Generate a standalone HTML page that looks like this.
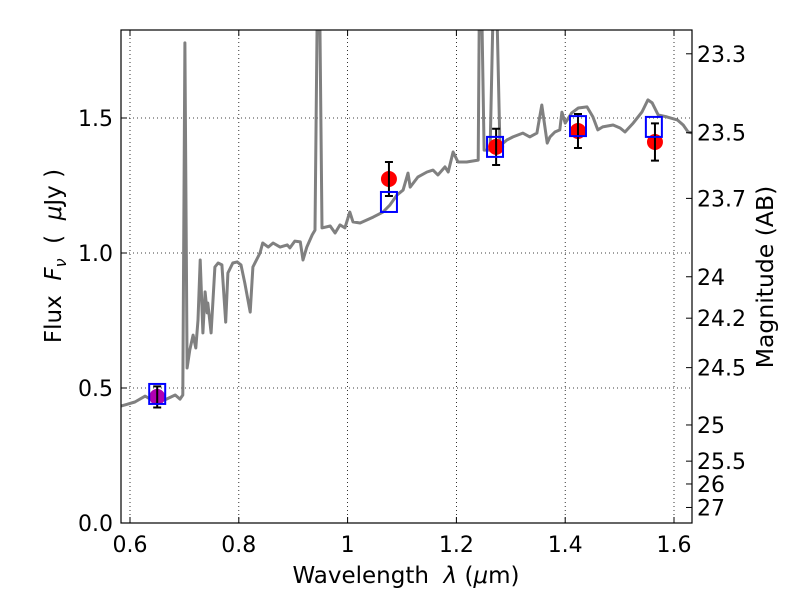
<!DOCTYPE html>
<html><head><meta charset="utf-8"><style>
body{margin:0;background:#fff}
svg{display:block;font-family:"DejaVu Sans","Liberation Sans",sans-serif}
</style></head><body>
<svg id="chart" width="800" height="600" viewBox="0 0 800 600">
<defs><clipPath id="plotclip"><rect x="121" y="30" width="571" height="493"/></clipPath></defs>
<rect x="0" y="0" width="800" height="600" fill="#fff"/>
<g id="grid"></g>
<g id="marks" clip-path="url(#plotclip)"></g>
<rect x="121" y="30" width="571" height="493" fill="none" stroke="#000" stroke-width="1.2"/>
<g id="axes"></g>
<text x="406" y="583" font-size="23" text-anchor="middle" style="white-space:pre">Wavelength  <tspan font-style="italic">λ</tspan> (<tspan font-style="italic">μ</tspan>m)</text>
<text transform="translate(61,256) rotate(-90)" font-size="23" text-anchor="middle" style="white-space:pre">Flux  <tspan font-style="italic">F<tspan font-size="16" dy="5">ν</tspan></tspan><tspan dy="-5">  (  </tspan><tspan font-style="italic">μ</tspan>Jy )</text>
<text transform="translate(773,277) rotate(-90)" font-size="23.5" text-anchor="middle">Magnitude (AB)</text>
</svg>
<script>
const specWave=[0.583,0.609,0.628,0.646,0.664,0.683,0.692,0.697,0.701,0.705,0.710,0.716,0.721,0.725,0.729,0.734,0.738,0.742,0.743,0.749,0.756,0.762,0.769,0.776,0.780,0.789,0.797,0.804,0.811,0.821,0.826,0.839,0.844,0.854,0.863,0.876,0.889,0.894,0.903,0.913,0.918,0.925,0.935,0.940,0.944,0.949,0.953,0.968,0.977,0.986,0.995,1.004,1.010,1.023,1.047,1.065,1.078,1.091,1.102,1.111,1.115,1.129,1.146,1.157,1.166,1.179,1.185,1.194,1.203,1.219,1.240,1.242,1.247,1.251,1.262,1.267,1.275,1.280,1.286,1.293,1.304,1.322,1.335,1.348,1.357,1.367,1.372,1.381,1.390,1.394,1.400,1.412,1.424,1.440,1.451,1.460,1.469,1.488,1.501,1.510,1.525,1.541,1.552,1.560,1.571,1.587,1.606,1.617,1.626,1.635];
const specFlux=[0.433,0.448,0.470,0.448,0.456,0.474,0.459,0.474,1.778,0.574,0.641,0.696,0.648,0.752,0.974,0.704,0.856,0.778,0.815,0.704,0.948,0.963,0.956,0.744,0.926,0.963,0.967,0.956,0.889,0.781,0.948,1.000,1.037,1.022,1.037,1.022,1.030,1.019,1.044,1.041,0.974,1.022,1.067,1.085,1.85,1.85,1.093,1.100,1.074,1.104,1.093,1.152,1.115,1.111,1.133,1.152,1.178,1.215,1.233,1.296,1.244,1.281,1.300,1.307,1.289,1.319,1.300,1.374,1.337,1.337,1.344,1.85,1.85,1.381,1.381,1.85,1.85,1.400,1.407,1.419,1.430,1.444,1.430,1.444,1.548,1.407,1.430,1.448,1.456,1.522,1.481,1.519,1.537,1.541,1.504,1.456,1.467,1.474,1.463,1.448,1.481,1.522,1.567,1.556,1.511,1.504,1.493,1.474,1.448,1.444];
const obsWave=[0.650,1.076,1.273,1.4235,1.565];
const obsFlux=[0.467,1.274,1.393,1.452,1.411];
const obsErr=[0.039,0.063,0.067,0.063,0.069];
const obsColor=['#b000b0','red','red','red','red'];
const modWave=[0.650,1.076,1.271,1.4235,1.563];
const modFlux=[0.478,1.189,1.393,1.470,1.467];
const xTicks=[0.6,0.8,1.0,1.2,1.4,1.6];
const xTickLabels=['0.6','0.8','1','1.2','1.4','1.6'];
const yTicks=[0,0.5,1.0,1.5];
const yTickLabels=['0.0','0.5','1.0','1.5'];
const magTicks=[23.3,23.5,23.7,24,24.2,24.5,25,25.5,26,27];
const magTickLabels=['23.3','23.5','23.7','24','24.2','24.5','25','25.5','26','27'];

const X=v=>130+(v-0.6)*544;
const Y=v=>523-v*270;
const NS='http://www.w3.org/2000/svg';
function mk(tag,attrs,parent){const e=document.createElementNS(NS,tag);for(const k in attrs)e.setAttribute(k,attrs[k]);parent.appendChild(e);return e;}
const grid=document.getElementById('grid'),marks=document.getElementById('marks'),axes=document.getElementById('axes');

xTicks.forEach((t,i)=>{
  const x=X(t);
  const g=mk('line',{x1:x,x2:x,y1:30,y2:523,stroke:'#000','stroke-width':0.8,'stroke-dasharray':'1,3'},grid);
  
  
  const tk=mk('path',{d:`M${x},523v-6M${x},30v6`,stroke:'#000','stroke-width':1},axes);
  
  
  const tx=mk('text',{x:x,y:552,'font-size':22,'text-anchor':'middle'},axes);
  tx.textContent=xTickLabels[i];
  
  
});
yTicks.forEach((t,i)=>{
  const y=Y(t);
  if(t>0){const g=mk('line',{x1:121,x2:692,y1:y,y2:y,stroke:'#000','stroke-width':0.8,'stroke-dasharray':'1,3'},grid);
  
  }
  const tk=mk('path',{d:`M121,${y}h6`,stroke:'#000','stroke-width':1},axes);
  
  
  const tx=mk('text',{x:113,y:y+8,'font-size':22,'text-anchor':'end'},axes);
  tx.textContent=yTickLabels[i];
  
  
});
magTicks.forEach((m,i)=>{
  const y=Y(Math.pow(10,(23.9-m)/2.5));
  const tk=mk('path',{d:`M692,${y}h-6`,stroke:'#000','stroke-width':1},axes);
  
  
  const tx=mk('text',{x:697,y:y+8,'font-size':22},axes);
  tx.textContent=magTickLabels[i];
  
  
});

const d=specWave.map((w,i)=>(i?'L':'M')+X(w).toFixed(1)+','+Y(specFlux[i]).toFixed(1)).join('');
const line=mk('path',{d:d,fill:'none',stroke:'#808080','stroke-width':3,'stroke-linejoin':'round'},marks);



obsWave.forEach((w,i)=>{
  const x=X(w),y=Y(obsFlux[i]);
  const c=mk('circle',{cx:x,cy:y,r:8,fill:obsColor[i]},marks);
  
  
  const y1=Y(obsFlux[i]+obsErr[i]),y2=Y(obsFlux[i]-obsErr[i]);
  const e=mk('path',{d:`M${x},${y1}V${y2}M${x-4},${y1}h8M${x-4},${y2}h8`,stroke:'#000','stroke-width':2},marks);
  
  
});
modWave.forEach((w,i)=>{
  const x=X(w),y=Y(modFlux[i]);
  const s=mk('rect',{x:x-8,y:y-10,width:16,height:20,fill:'none',stroke:'#0000ff','stroke-width':2},marks);
  
  
});
</script>
</body></html>
